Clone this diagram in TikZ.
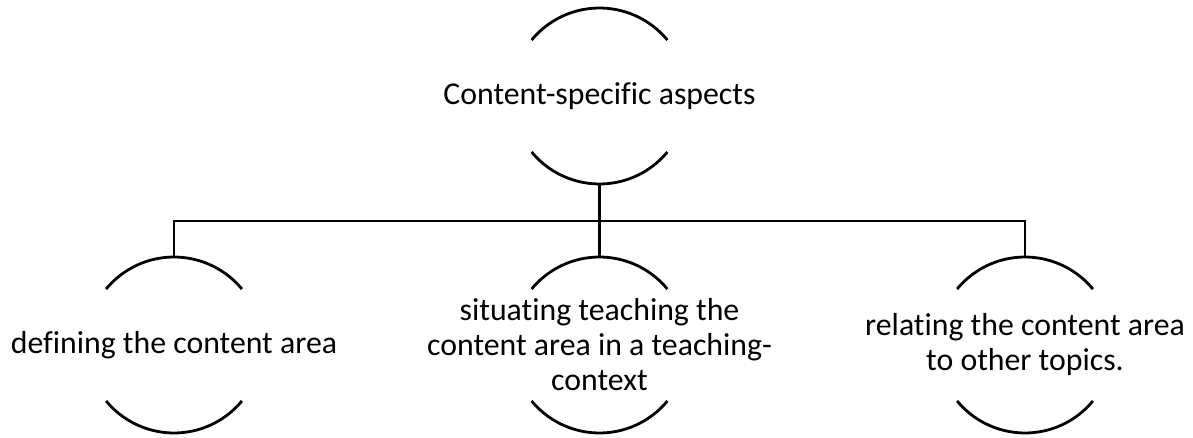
\documentclass[tikz,border=0pt]{standalone}
\usepackage{fontspec}
\setmainfont[RawFeature={-liga;-dlig;-clig}]{Carlito}
\begin{document}
\begin{tikzpicture}[x=1pt, y=-1pt, line width=2.8pt, line join=miter,
  lbl/.style={align=center, inner sep=0pt, font=\fontsize{31.8}{35}\selectfont},
  ]
\useasboundingbox (0,0) rectangle (1193,438);

% text of each element, placed at the centre of its ring
\node[lbl] (root) at (599.5,96) {Content-specific aspects};
\node[lbl] (c1) at (174,345) {defining the content area};
\node[lbl] (c2) at (599.5,345) {situating teaching the\\content area in a teaching-\\context};
\node[lbl] (c3) at (1025,345) {relating the content area\\to other topics.};

% open rings: only the top and bottom arcs are drawn
\foreach \n in {root,c1,c2,c3} {
  \draw ([shift={(39.5:88pt)}]\n.center) arc[start angle=39.5, end angle=140.5, radius=88pt];
  \draw ([shift={(219.5:88pt)}]\n.center) arc[start angle=219.5, end angle=320.5, radius=88pt];
}

% connection points on the rings and the branching bus
\coordinate (root-s) at (599.5,184);
\coordinate (bus) at (599.5,221);
\coordinate (c1-n) at (174,257);
\coordinate (c2-n) at (599.5,257);
\coordinate (c3-n) at (1025,257);

\draw (root-s) -- (bus);
\draw (c1-n) |- (bus) -| (c3-n);
\draw (bus) -- (c2-n);
\end{tikzpicture}
\end{document}
